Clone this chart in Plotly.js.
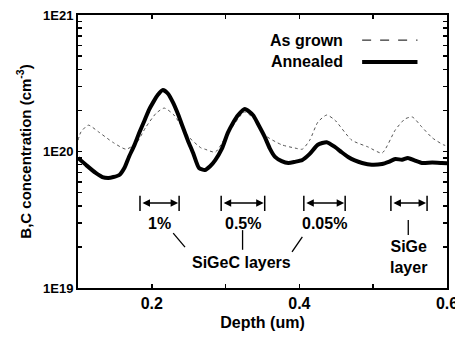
<!DOCTYPE html>
<html><head><meta charset="utf-8">
<script src="https://cdn.plot.ly/plotly-3.0.1.min.js"></script>
<style>body{margin:0;background:#fff}#c{width:455px;height:337px}</style>
</head><body><div id="c"></div>
<script>
// Data
const annealedDepth = [0.100,0.111,0.124,0.133,0.141,0.148,0.156,0.163,0.169,0.176,0.183,0.190,0.196,0.202,0.208,0.215,0.222,0.229,0.236,0.242,0.249,0.256,0.264,0.272,0.279,0.286,0.295,0.303,0.310,0.317,0.326,0.337,0.345,0.353,0.360,0.367,0.376,0.385,0.394,0.404,0.414,0.425,0.437,0.448,0.457,0.466,0.475,0.485,0.498,0.512,0.521,0.530,0.539,0.547,0.556,0.566,0.580,0.593,0.600];
const annealedConc  = [8.97e19,7.96e19,6.96e19,6.5e19,6.40e19,6.5e19,6.73e19,7.6e19,9.12e19,1.1e20,1.37e20,1.68e20,2.01e20,2.3e20,2.59e20,2.82e20,2.65e20,2.27e20,1.85e20,1.51e20,1.2e20,9.75e19,7.57e19,7.32e19,7.8e19,8.66e19,1.05e20,1.37e20,1.62e20,1.85e20,2.05e20,1.85e20,1.55e20,1.28e20,1.05e20,9.12e19,8.5e19,8.24e19,8.4e19,8.66e19,9.6e19,1.12e20,1.17e20,1.08e20,9.9e19,9.12e19,8.6e19,8.24e19,8.0e19,8.10e19,8.4e19,8.81e19,8.7e19,8.97e19,8.6e19,8.24e19,8.3e19,8.24e19,8.2e19];
const grownDepth = [0.100,0.104,0.114,0.128,0.147,0.165,0.179,0.192,0.206,0.217,0.230,0.250,0.267,0.272,0.286,0.303,0.326,0.344,0.353,0.376,0.394,0.404,0.414,0.425,0.437,0.448,0.471,0.493,0.512,0.530,0.543,0.553,0.566,0.580,0.595,0.600];
const grownConc  = [1.21e20,1.39e20,1.56e20,1.39e20,1.17e20,1.04e20,1.15e20,1.51e20,1.91e20,2.08e20,1.85e20,1.28e20,1.06e20,1.04e20,9.9e19,1.35e20,1.95e20,1.6e20,1.32e20,1.12e20,1.06e20,1.04e20,1.21e20,1.64e20,1.85e20,1.70e20,1.21e20,1.08e20,9.75e19,1.44e20,1.73e20,1.79e20,1.51e20,1.26e20,1.12e20,1.1e20];
const seriesNames = ['As grown','Annealed'];
const xTickVals = [0.1,0.2,0.3,0.4,0.5,0.6];
const xTickText = ['','0.2','','0.4','','0.6'];
const yDecades = [1e19,1e20,1e21];
const yDecadeText = ['1E19','1E20','1E21'];
// layer brackets (depth ranges) and labels
const layerStart = [0.184,0.294,0.406,0.524];
const layerEnd   = [0.237,0.353,0.462,0.573];
const layerLabels = ['1%','0.5%','0.05%',''];
const bracketLevel = 4.2e19;

const yTickVals=[], yTickText=[];
for (let d=19; d<=21; d++) for (let m=1; m<=9; m++) {
  if (d===21 && m>1) break;
  yTickVals.push(m*Math.pow(10,d));
  yTickText.push(m===1 ? '<b>'+yDecadeText[d-19]+'</b>' : ' ');
}
const b = s => s ? '<b>'+s+'</b>' : ' ';

const FONT = 'Liberation Sans, Arial, sans-serif';
const AF = {family:FONT, size:16, color:'#000'};
const traces = [
  {x: grownDepth, y: grownConc, mode:'lines', name: seriesNames[0], line:{color:'#555', width:1, dash:'dot', shape:'spline', smoothing:0.6}, showlegend:false},
  {x: annealedDepth, y: annealedConc, mode:'lines', name: seriesNames[1], line:{color:'#000', width:4, shape:'spline', smoothing:0.6}, showlegend:false}
];

const L = Math.log10;
const ann = [], shapes = [];
for (let i=0;i<layerStart.length;i++){
  ann.push({x:layerEnd[i], y:L(bracketLevel), ax:layerStart[i], ay:L(bracketLevel), xref:'x', yref:'y', axref:'x', ayref:'y', text:'', showarrow:true, arrowside:'end+start', arrowhead:2, arrowsize:1, arrowwidth:1.5, arrowcolor:'#000', standoff:1, startstandoff:1});
  shapes.push({type:'line', xref:'x', yref:'paper', x0:layerStart[i], x1:layerStart[i], y0:0.282, y1:0.338, line:{color:'#000', width:1.5}});
  shapes.push({type:'line', xref:'x', yref:'paper', x0:layerEnd[i], x1:layerEnd[i], y0:0.282, y1:0.338, line:{color:'#000', width:1.5}});
  if (layerLabels[i]) ann.push({x:(layerStart[i]+layerEnd[i])/2, y:0.238, xref:'x', yref:'paper', yanchor:'middle', text:b(layerLabels[i]), showarrow:false, font:AF});
}
ann.push({x:0.322, y:0.095, xref:'x', yref:'paper', text:b('SiGeC layers'), showarrow:false, xanchor:'center', yanchor:'middle', font:AF});
ann.push({x:0.5475, y:0.114, xref:'x', yref:'paper', text:b('SiGe<br>layer'), showarrow:false, xanchor:'center', yanchor:'middle', font:AF});
// leader lines
shapes.push({type:'line', xref:'x', yref:'paper', x0:0.229, x1:0.245, y0:0.201, y1:0.150, line:{color:'#000', width:1.3}});
shapes.push({type:'line', xref:'x', yref:'paper', x0:0.323, x1:0.323, y0:0.212, y1:0.140, line:{color:'#000', width:1.3}});
shapes.push({type:'line', xref:'x', yref:'paper', x0:0.404, x1:0.390, y0:0.187, y1:0.132, line:{color:'#000', width:1.3}});
shapes.push({type:'line', xref:'x', yref:'paper', x0:0.5475, x1:0.5475, y0:0.249, y1:0.194, line:{color:'#000', width:1.3}});
// custom legend
ann.push({x:0.724, y:0.908, xref:'paper', yref:'paper', text:b(seriesNames[0]), showarrow:false, xanchor:'right', yanchor:'middle', font:AF});
ann.push({x:0.724, y:0.828, xref:'paper', yref:'paper', text:b(seriesNames[1]), showarrow:false, xanchor:'right', yanchor:'middle', font:AF});
shapes.push({type:'line', xref:'paper', yref:'paper', x0:0.77, x1:0.92, y0:0.908, y1:0.908, line:{color:'#000', width:1, dash:'dash'}});
shapes.push({type:'line', xref:'paper', yref:'paper', x0:0.77, x1:0.92, y0:0.828, y1:0.828, line:{color:'#000', width:4}});

const layout = {
  width:455, height:337,
  margin:{l:78, r:8, t:15, b:49},
  paper_bgcolor:'#fff', plot_bgcolor:'#fff',
  showlegend:false,
  font:{family:FONT, color:'#000', size:12},
  xaxis:{range:[0.1,0.6], tickmode:'array', tickvals:xTickVals, ticktext:xTickText.map(b), ticks:'inside', ticklen:4, tickwidth:1.5, tickcolor:'#000', showline:true, linewidth:2, linecolor:'#000', mirror:'ticks', showgrid:false, zeroline:false, ticklabeloverflow:'allow', tickfont:{family:FONT, size:16}, title:{text:b('Depth (um)'), font:{family:FONT, size:16}, standoff:6}},
  yaxis:{type:'log', range:[19,21], tickmode:'array', tickvals:yTickVals, ticktext:yTickText, ticks:'inside', ticklen:4, tickwidth:1.5, tickcolor:'#000', showline:true, linewidth:2, linecolor:'#000', mirror:'ticks', showgrid:false, zeroline:false, tickfont:{family:FONT, size:13}, title:{text:b('B,C concentration (cm<sup>-3</sup>)'), font:{family:FONT, size:15}, standoff:8}},
  annotations: ann, shapes: shapes
};
Plotly.newPlot('c', traces, layout, {displayModeBar:false, staticPlot:true});
</script></body></html>
